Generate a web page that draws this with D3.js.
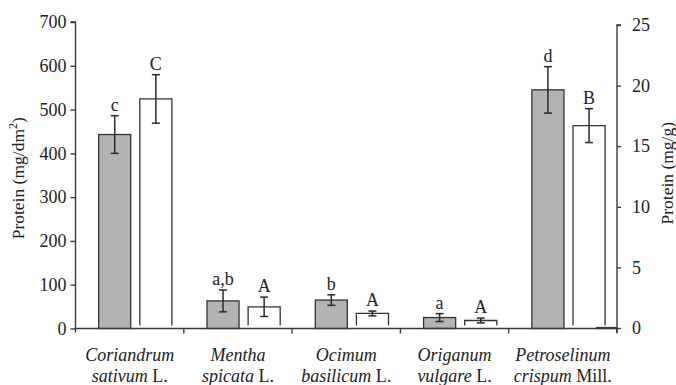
<!DOCTYPE html>
<html>
<head>
<meta charset="utf-8">
<script src="https://cdn.jsdelivr.net/npm/d3@7"></script>
<style>
  html, body { margin: 0; padding: 0; background: #fff; }
  svg text { font-family: "Liberation Serif", "Times New Roman", Times, Tinos, serif !important; }
</style>
</head>
<body>
<svg id="chart" width="676" height="385"></svg>
<script>
// Plant species (italic genus/species + plain authority)
const species = [
  { line1: [["Coriandrum", true]], line2: [["sativum", true], [" L.", false]] },
  { line1: [["Mentha", true]], line2: [["spicata", true], [" L.", false]] },
  { line1: [["Ocimum", true]], line2: [["basilicum", true], [" L.", false]] },
  { line1: [["Origanum", true]], line2: [["vulgare", true], [" L.", false]] },
  { line1: [["Petroselinum", true]], line2: [["crispum", true], [" Mill.", false]] }
];
const categories = ["Coriandrum sativum", "Mentha spicata", "Ocimum basilicum", "Origanum vulgare", "Petroselinum crispum"];

// Protein per leaf area, mg/dm² (left axis, grey bars)
const proteinArea = [443, 63, 65, 25, 545];
const proteinAreaErr = [43, 25, 12, 9, 53];
const proteinAreaLetters = ["c", "a,b", "b", "a", "d"];

// Protein per fresh weight, mg/g (right axis, white bars)
const proteinMass = [18.9, 1.75, 1.2, 0.62, 16.7];
const proteinMassErr = [2.0, 0.8, 0.2, 0.2, 1.4];
const proteinMassLetters = ["C", "A", "A", "A", "B"];

const leftTicks = [0, 100, 200, 300, 400, 500, 600, 700];
const rightTicks = [0, 5, 10, 15, 20, 25];

const svg = d3.select("#chart");
const axisColor = "#3a3a3a";
const textColor = "#222";
const fontSize = 18;
const titleSize = 17.5;

const plot = { left: 75.5, right: 617, top: 22, bottom: 328.5 };

const x = d3.scaleBand().domain(categories).range([plot.left, plot.right]).padding(0);
const sub = d3.scaleBand().domain(["area", "mass"])
  .range([x.bandwidth() * 0.214, x.bandwidth() * 0.89]).paddingInner(0.22);

const yL = d3.scaleLinear().domain([0, 700]).range([plot.bottom, plot.top]);
const yR = d3.scaleLinear().domain([0, 25]).range([plot.bottom - 0.5, plot.top + 3]);

// Grey bars (left axis)
svg.append("g").selectAll("rect")
  .data(categories)
  .join("rect")
  .attr("x", (d) => x(d) + sub("area"))
  .attr("y", (d, i) => yL(proteinArea[i]))
  .attr("width", sub.bandwidth())
  .attr("height", (d, i) => yL(0) - yL(proteinArea[i]))
  .attr("fill", "#b3b3b6")
  .attr("stroke", "#333")
  .attr("stroke-width", 1.3);

// White bars (right axis), drawn open at the base
const lift = 2.5;
svg.append("g").selectAll("path")
  .data(categories)
  .join("path")
  .attr("d", (d, i) => {
    const x0 = x(d) + sub("mass"), x1 = x0 + sub.bandwidth();
    const yTop = yR(proteinMass[i]), yBase = yR(0) - lift;
    return `M${x0},${yBase}V${yTop}H${x1}V${yBase}`;
  })
  .attr("fill", "#fff")
  .attr("stroke", "#333")
  .attr("stroke-width", 1.3);

// Error bars
function errorBars(vals, errs, scale, key) {
  const g = svg.append("g").attr("stroke", "#2a2a2a").attr("stroke-width", 1.5);
  categories.forEach((c, i) => {
    const cx = x(c) + sub(key) + sub.bandwidth() / 2;
    const y1 = scale(vals[i] + errs[i]), y0 = scale(vals[i] - errs[i]);
    g.append("line").attr("x1", cx).attr("x2", cx).attr("y1", y1).attr("y2", y0);
    g.append("line").attr("x1", cx - 4).attr("x2", cx + 4).attr("y1", y1).attr("y2", y1);
    g.append("line").attr("x1", cx - 4).attr("x2", cx + 4).attr("y1", y0).attr("y2", y0);
  });
}
errorBars(proteinArea, proteinAreaErr, yL, "area");
errorBars(proteinMass, proteinMassErr, yR, "mass");

// Significance letters
function letters(vals, errs, labs, scale, key) {
  svg.append("g").selectAll("text")
    .data(categories)
    .join("text")
    .attr("x", (d) => x(d) + sub(key) + sub.bandwidth() / 2)
    .attr("y", (d, i) => scale(vals[i] + errs[i]) - 5)
    .attr("text-anchor", "middle")
    .attr("font-size", fontSize)
    .attr("fill", textColor)
    .text((d, i) => labs[i]);
}
letters(proteinArea, proteinAreaErr, proteinAreaLetters, yL, "area");
letters(proteinMass, proteinMassErr, proteinMassLetters, yR, "mass");

// Left axis
const gL = svg.append("g").attr("transform", `translate(${plot.left},0)`)
  .call(d3.axisLeft(yL).tickValues(leftTicks).tickSize(5).tickPadding(4));
gL.select(".domain").attr("d", `M-5,${yL(700)}H0V${plot.bottom + 4}`);

// Right axis
const gR = svg.append("g").attr("transform", `translate(${plot.right},0)`)
  .call(d3.axisRight(yR).tickValues(rightTicks).tickSize(4).tickPadding(11));
gR.select(".domain").attr("d", `M4,${yR(25)}H0V${plot.bottom + 4}`);

[gL, gR].forEach((g) => {
  g.selectAll(".domain").attr("stroke", axisColor).attr("stroke-width", 1.4);
  g.selectAll(".tick line").attr("stroke", axisColor).attr("stroke-width", 1.4);
  g.selectAll(".tick text").attr("fill", textColor).attr("font-size", fontSize);
});

// Category axis (baseline with boundary ticks)
const gx = svg.append("g").attr("stroke", axisColor).attr("stroke-width", 1.4);
gx.append("line").attr("x1", plot.left).attr("x2", plot.right)
  .attr("y1", plot.bottom).attr("y2", plot.bottom);
categories.slice(1).concat([null]).forEach((c) => {
  const bx = c === null ? plot.right : x(c);
  gx.append("line").attr("x1", bx).attr("x2", bx)
    .attr("y1", plot.bottom).attr("y2", plot.bottom + 5);
});
// secondary base stub at the right axis
gx.append("line").attr("x1", plot.right - 21).attr("x2", plot.right)
  .attr("y1", plot.bottom - 0.5).attr("y2", plot.bottom - 0.5).attr("stroke-width", 2.2);

// Category labels
const labels = svg.append("g").attr("font-size", fontSize).attr("fill", textColor);
species.forEach((s, i) => {
  const cx = x(categories[i]) + x.bandwidth() / 2;
  [[s.line1, 361], [s.line2, 382]].forEach(([parts, yy]) => {
    const t = labels.append("text").attr("x", cx).attr("y", yy).attr("text-anchor", "middle");
    parts.forEach(([txt, it]) => {
      t.append("tspan").attr("font-style", it ? "italic" : "normal").text(txt);
    });
  });
});

// Axis titles
const leftTitle = svg.append("text")
  .attr("transform", `translate(24,${(plot.top + plot.bottom) / 2 + 3}) rotate(-90)`)
  .attr("text-anchor", "middle").attr("font-size", titleSize).attr("fill", textColor);
leftTitle.append("tspan").text("Protein (mg/dm");
leftTitle.append("tspan").attr("baseline-shift", "super").attr("font-size", 12).text("2");
leftTitle.append("tspan").text(")");

svg.append("text")
  .attr("transform", `translate(673,${(plot.top + plot.bottom) / 2 - 2}) rotate(-90)`)
  .attr("text-anchor", "middle").attr("font-size", titleSize).attr("fill", textColor)
  .text("Protein (mg/g)");
</script>
</body>
</html>
